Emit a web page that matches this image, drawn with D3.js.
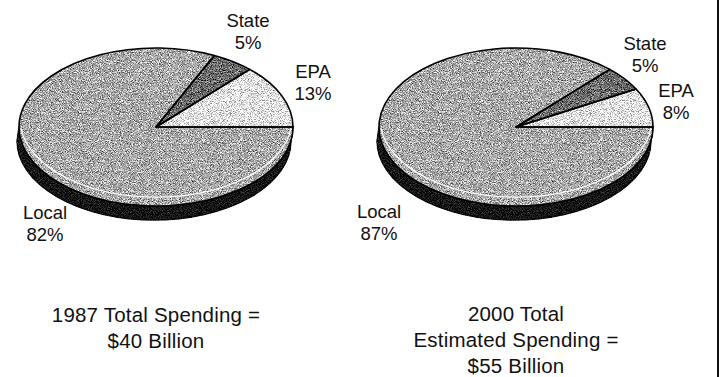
<!DOCTYPE html>
<html lang="en">
    <head>
        <meta charset="utf-8">
        <title>Spending shares 1987 / 2000</title>
        <script src="https://cdn.jsdelivr.net/npm/d3@7"></script>
        <style>
            body { margin: 0; background: #fff; }
            text { font-family: "Liberation Sans", Arial, Helvetica, sans-serif; fill: #111; }
        </style>
    </head>
    <body>
        <svg width="721" height="377"></svg>
        <script type="text/javascript">
            // data
            var categories = ["EPA", "State", "Local"];
            var shares1987 = [13, 5, 82];
            var shares2000 = [8, 5, 87];
            var titles1987 = ["1987 Total Spending =", "$40 Billion"];
            var titles2000 = ["2000 Total", "Estimated Spending =", "$55 Billion"];

            var svg = d3.select("svg");

            // grey tones for the slices, same order as categories
            var color = d3.scaleOrdinal()
                .domain(categories)
                .range(["#e6e6e6", "#6a6a6a", "#a9a9a9"]);

            // ellipse size and depth of the 3d edge
            var rx = 137, ry = 79, depthX = -2, depthY = 14;

            // grainy scan look, one strong and one soft
            var defs = svg.append("defs");
            function addGrain(id, amount) {
                var f = defs.append("filter")
                    .attr("id", id)
                    .attr("x", "-5%").attr("y", "-5%")
                    .attr("width", "110%").attr("height", "110%")
                    .attr("color-interpolation-filters", "sRGB");
                f.append("feTurbulence")
                    .attr("type", "fractalNoise")
                    .attr("baseFrequency", 1.1)
                    .attr("numOctaves", 2)
                    .attr("seed", 7)
                    .attr("result", "noise");
                f.append("feColorMatrix")
                    .attr("in", "noise")
                    .attr("type", "matrix")
                    .attr("values", "1 0 0 0 0  1 0 0 0 0  1 0 0 0 0  0 0 0 0 1")
                    .attr("result", "grey");
                f.append("feComposite")
                    .attr("in", "SourceGraphic")
                    .attr("in2", "grey")
                    .attr("operator", "arithmetic")
                    .attr("k1", 0).attr("k2", 1).attr("k3", amount).attr("k4", -amount / 2)
                    .attr("result", "mix");
                f.append("feComposite")
                    .attr("in", "mix")
                    .attr("in2", "SourceGraphic")
                    .attr("operator", "in");
            }
            addGrain("grain", 1.5);
            addGrain("grainSoft", 0.7);

            // pie runs counter clockwise from 3 o'clock
            var pie = d3.pie()
                .sort(null)
                .value(function(d) { return d.value; })
                .startAngle(Math.PI / 2)
                .endAngle(Math.PI / 2 - 2 * Math.PI);

            var arc = d3.arc()
                .innerRadius(0)
                .outerRadius(rx);

            function drawPie(cx, cy, shares, labelPos, titles, titleY) {
                var data = categories.map(function(c, i) {
                    return {name: c, value: shares[i]};
                });
                var g = svg.append("g")
                    .attr("transform", "translate(" + cx + "," + cy + ")");

                // side of the disc
                var side = "M" + rx + ",0"
                    + "A" + rx + "," + ry + " 0 0 1 " + (-rx) + ",0"
                    + "L" + (-rx + depthX) + "," + depthY
                    + "A" + rx + "," + ry + " 0 0 0 " + (rx + depthX) + "," + depthY
                    + "Z";
                g.append("path")
                    .attr("d", side)
                    .attr("fill", "#141414")
                    .attr("stroke", "#000")
                    .attr("stroke-width", 1.5)
                    .attr("filter", "url(#grainSoft)");

                // top of the disc
                var fills = g.append("g").attr("filter", "url(#grain)")
                    .append("g")
                    .attr("transform", "scale(1," + (ry / rx) + ")");
                fills.selectAll("path")
                    .data(pie(data))
                    .enter()
                    .append("path")
                    .attr("d", arc)
                    .attr("fill", function(d) { return color(d.data.name); });

                var lines = g.append("g")
                    .attr("transform", "scale(1," + (ry / rx) + ")");
                lines.selectAll("path")
                    .data(pie(data))
                    .enter()
                    .append("path")
                    .attr("d", arc)
                    .attr("fill", "none")
                    .attr("stroke", "#000")
                    .attr("stroke-width", 1.6)
                    .attr("stroke-linejoin", "round")
                    .attr("vector-effect", "non-scaling-stroke");

                // light rim along the front edge
                g.append("path")
                    .attr("d", "M" + (rx - 2) + ",1.5A" + (rx - 1) + "," + (ry - 1) + " 0 0 1 " + (-rx + 2) + ",1.5")
                    .attr("fill", "none")
                    .attr("stroke", "#fff")
                    .attr("stroke-width", 1.2);

                // slice labels
                data.forEach(function(d) {
                    var p = labelPos[d.name];
                    var t = g.append("text")
                        .attr("text-anchor", "middle")
                        .style("font-size", "18.5px");
                    t.append("tspan").attr("x", p[0]).attr("y", p[1]).text(d.name);
                    t.append("tspan").attr("x", p[0]).attr("y", p[1] + 21.5).text(d.value + "%");
                });

                // caption under the pie
                var cap = g.append("text")
                    .attr("text-anchor", "middle")
                    .style("font-size", "20.5px")
                    .style("letter-spacing", "0.2px");
                titles.forEach(function(s, i) {
                    cap.append("tspan")
                        .attr("x", 0)
                        .attr("y", titleY - cy + i * 26)
                        .text(s);
                });
            }

            drawPie(156, 127, shares1987,
                {State: [92, -100], EPA: [157, -49], Local: [-111, 92]},
                titles1987, 322);

            drawPie(516, 127, shares2000,
                {State: [129, -77], EPA: [160, -30], Local: [-137, 91]},
                titles2000, 321);

            // frame edge on the right
            svg.append("line")
                .attr("x1", 718).attr("x2", 718)
                .attr("y1", 0).attr("y2", 377)
                .attr("stroke", "#111")
                .attr("stroke-width", 2);
        </script>
    </body>
</html>
